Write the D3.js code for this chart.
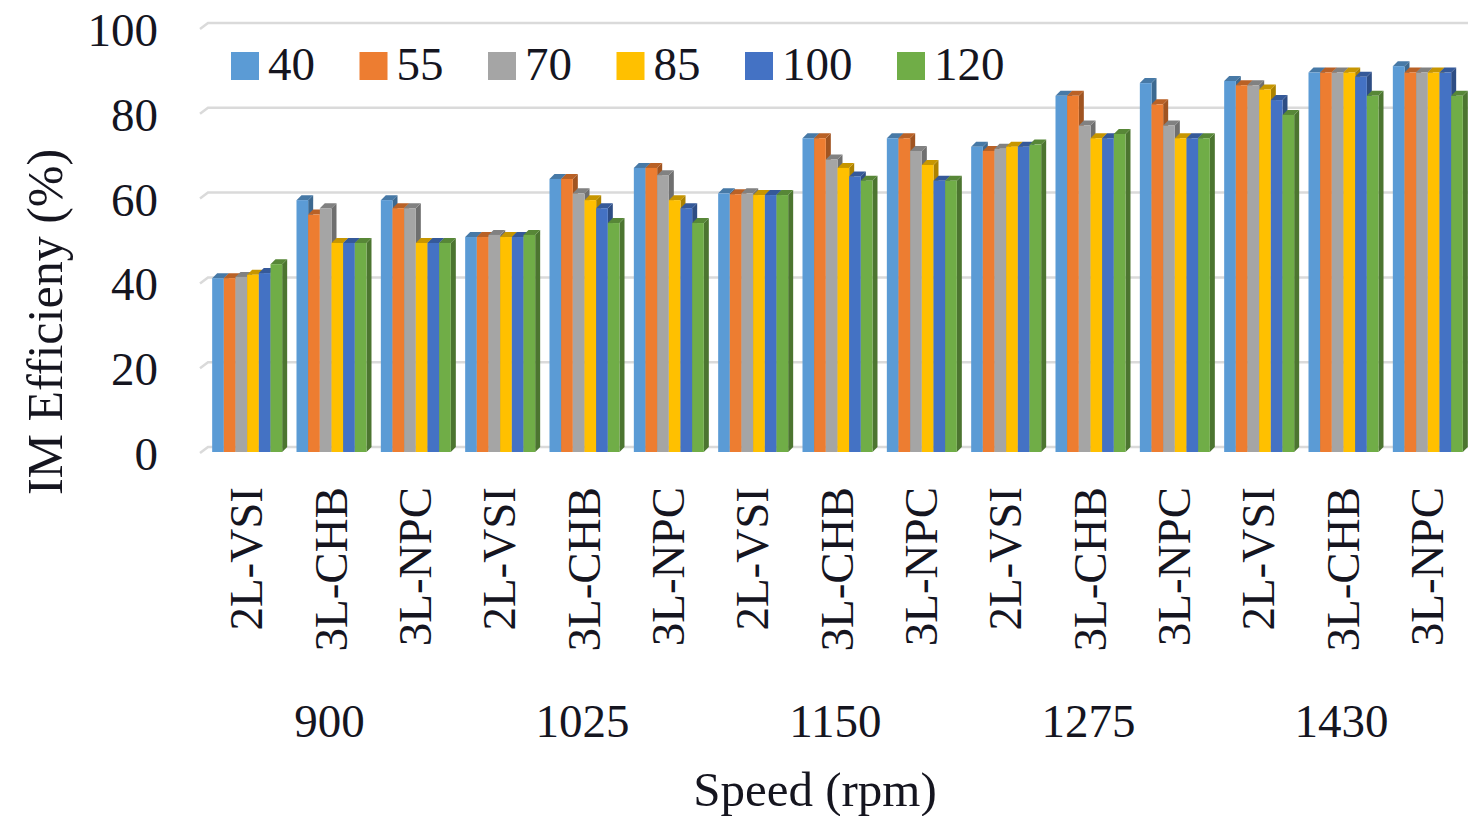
<!DOCTYPE html>
<html>
<head>
<meta charset="utf-8">
<script src="https://cdn.jsdelivr.net/npm/d3@7"></script>
<style>
  html, body { margin: 0; padding: 0; background: #fff; }
  svg { display: block; }
  text { font-family: "Liberation Serif", "Times New Roman", serif; fill: #15151f; }
</style>
</head>
<body>
<svg id="chart" width="1468" height="816"></svg>
<script>
// Induction motor efficiency by speed and converter topology, one series per load level
const speeds = ["900", "1025", "1150", "1275", "1430"];
const converters = ["2L-VSI", "3L-CHB", "3L-NPC"];
const seriesNames = ["40", "55", "70", "85", "100", "120"];
const seriesColors = ["#5B9BD5", "#ED7D31", "#A5A5A5", "#FFC000", "#4472C4", "#70AD47"];
const yTicks = [0, 20, 40, 60, 80, 100];

// values in category order: 900 (2L-VSI, 3L-CHB, 3L-NPC), 1025 (...), ... 1430 (...)
const s40  = [41.0, 59.4, 59.4, 50.7, 64.4, 67.0, 61.0, 74.0, 74.0, 72.0, 84.0, 87.0, 87.5, 89.5, 91.0];
const s55  = [41.0, 56.0, 57.5, 50.7, 64.4, 67.0, 60.8, 74.0, 74.0, 71.0, 84.0, 82.0, 86.5, 89.5, 89.5];
const s70  = [41.3, 57.5, 57.5, 51.2, 61.0, 65.3, 61.0, 69.0, 71.0, 71.5, 77.0, 77.0, 86.5, 89.5, 89.5];
const s85  = [41.8, 49.3, 49.3, 50.7, 59.4, 59.4, 60.6, 67.0, 67.7, 72.0, 74.0, 74.0, 85.5, 89.5, 89.5];
const s100 = [42.2, 49.3, 49.3, 50.7, 57.5, 57.5, 60.6, 65.0, 64.0, 72.0, 74.0, 74.0, 83.0, 88.5, 89.5];
const s120 = [44.3, 49.3, 49.3, 51.2, 54.0, 54.0, 60.6, 64.0, 64.0, 72.5, 75.0, 74.0, 79.5, 84.0, 84.0];
const seriesValues = [s40, s55, s70, s85, s100, s120];

const svg = d3.select("#chart");
const W = 1468;

// category keys, one per speed/converter pair
const categories = [];
speeds.forEach(s => converters.forEach(c => categories.push({ key: s + "|" + c, speed: s, conv: c })));

const x = d3.scaleBand()
  .domain(categories.map(d => d.key))
  .range([205, 1470])
  .paddingInner(0.17)
  .paddingOuter(0.085);

const xs = d3.scaleBand().domain(seriesNames).range([0, x.bandwidth()]).padding(0);

// back-wall value scale
const y = d3.scaleLinear().domain([0, 100]).range([447, 23]);

// 3D depth offsets
const wallDX = 8, wallDY = 6;
const barDX = 5, barDY = 5;
const fontSize = 47;

// gridlines on the back wall with slanted side-wall stub
const grid = svg.append("g").attr("class", "grid");
yTicks.forEach(v => {
  grid.append("path")
    .attr("d", `M${200},${y(v) + wallDY} L${200 + wallDX},${y(v)} L${W},${y(v)}`)
    .attr("fill", "none")
    .attr("stroke", "#dadada")
    .attr("stroke-width", 2.5);
});

// y tick labels
svg.append("g").selectAll("text")
  .data(yTicks)
  .join("text")
  .attr("x", 158)
  .attr("y", d => y(d) + 7)
  .attr("text-anchor", "end")
  .attr("dominant-baseline", "central")
  .attr("font-size", fontSize)
  .text(d => d);

// bars: front face, right side and top face, drawn left to right so
// each bar hides the side face of its left neighbour
const bars = [];
categories.forEach((c, ci) => {
  seriesNames.forEach((s, si) => {
    bars.push({ cat: c.key, series: s, value: seriesValues[si][ci], color: seriesColors[si] });
  });
});

const barG = svg.append("g").attr("class", "bars");
bars.forEach(b => {
  const x0 = x(b.cat) + xs(b.series);
  const w = xs.bandwidth();
  const yTop = y(b.value) + barDY;   // front top edge
  const yBot = y(0) + barDY;         // front bottom edge
  const g = barG.append("g");
  const base = d3.color(b.color);
  // right side face
  g.append("path")
    .attr("d", `M${x0 + w},${yTop} L${x0 + w + barDX},${yTop - barDY} L${x0 + w + barDX},${yBot - barDY} L${x0 + w},${yBot} Z`)
    .attr("fill", base.darker(1.1));
  // top face
  g.append("path")
    .attr("d", `M${x0},${yTop} L${x0 + barDX},${yTop - barDY} L${x0 + w + barDX},${yTop - barDY} L${x0 + w},${yTop} Z`)
    .attr("fill", base.darker(0.7));
  // front face
  g.append("rect")
    .attr("x", x0)
    .attr("y", yTop)
    .attr("width", w)
    .attr("height", yBot - yTop)
    .attr("fill", base);
});

// converter labels, rotated
svg.append("g").selectAll("text")
  .data(categories)
  .join("text")
  .attr("transform", d => `translate(${x(d.key) + x.bandwidth() / 2 - 1},487) rotate(-90)`)
  .attr("text-anchor", "end")
  .attr("dominant-baseline", "central")
  .attr("font-size", fontSize)
  .text(d => d.conv);

// speed group labels, centred on the middle category of each group
svg.append("g").selectAll("text")
  .data(speeds)
  .join("text")
  .attr("x", s => x(s + "|" + converters[1]) + x.bandwidth() / 2 - 2)
  .attr("y", 737)
  .attr("text-anchor", "middle")
  .attr("font-size", fontSize)
  .text(s => s);

// axis titles
svg.append("text")
  .attr("x", 815)
  .attr("y", 806)
  .attr("text-anchor", "middle")
  .attr("font-size", 49)
  .text("Speed (rpm)");

svg.append("text")
  .attr("transform", "translate(45,322) rotate(-90)")
  .attr("text-anchor", "middle")
  .attr("dominant-baseline", "central")
  .attr("font-size", 50)
  .text("IM Efficieny (%)");

// legend across the top of the plot
const legend = svg.append("g").attr("class", "legend");
let lx = 231;
seriesNames.forEach((s, i) => {
  legend.append("rect")
    .attr("x", lx).attr("y", 52)
    .attr("width", 28).attr("height", 28)
    .attr("fill", seriesColors[i]);
  const t = legend.append("text")
    .attr("x", lx + 37)
    .attr("y", 80)
    .attr("font-size", fontSize)
    .text(s);
  lx += 37 + t.node().getComputedTextLength() + 44.5;
});
</script>
</body>
</html>
